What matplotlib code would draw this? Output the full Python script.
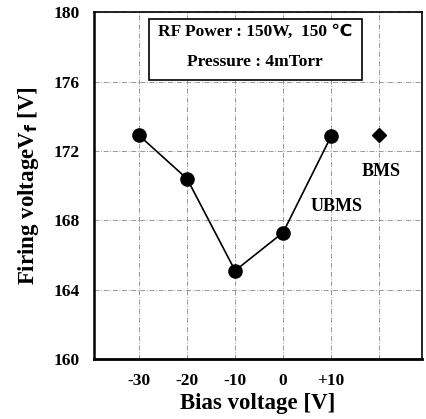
import matplotlib.pyplot as plt

# data
bias_labels = ['-30', '-20', '-10', '0', '+10']
ubms_vf = [172.9, 170.4, 165.1, 167.3, 172.85]
bms_vf = [172.9]

plt.rcParams['font.family'] = ['Liberation Serif', 'DejaVu Serif']
plt.rcParams['font.weight'] = 'bold'

fig = plt.figure(figsize=(4.26, 4.19), dpi=100)
ax = fig.add_axes([0.2207, 0.1432, 0.7693, 0.8270])

xpos = list(range(len(bias_labels)))
ax.plot(xpos, ubms_vf, '-', color='black', linewidth=1.2,
        marker='o', markersize=9.5, zorder=3)
ax.plot([len(bias_labels)], bms_vf, linestyle='none', color='black',
        marker='D', markersize=7.5, zorder=3)

ax.set_xlim(-0.94, 5.89)
ax.set_ylim(160, 180)
ax.set_xticks(range(6))
ax.set_xticklabels(bias_labels + [''])
ax.set_yticks([160, 164, 168, 172, 176, 180])
ax.tick_params(length=0, labelsize=12.5)
ax.tick_params(axis='x', pad=10)
ax.tick_params(axis='y', pad=10)
for lab in ax.get_xticklabels() + ax.get_yticklabels():
    lab.set_fontweight('bold')

ax.grid(True, color='#888888', linestyle=(0, (6, 2, 1, 2)), linewidth=0.6)
ax.set_axisbelow(True)
ax.spines['left'].set_linewidth(1.8)
ax.spines['bottom'].set_linewidth(2.0)
ax.spines['top'].set_linewidth(1.2)
ax.spines['right'].set_linewidth(1.2)

ax.set_xlabel('Bias voltage [V]', fontsize=16.5, fontweight='bold', labelpad=3)
ax.set_ylabel('Firing voltageV$_\\mathbf{f}$ [V]', fontsize=16.5,
              fontweight='bold', labelpad=9)

ax.text(5.04, 170.8, 'BMS', fontsize=13, fontweight='bold',
        ha='center', va='center')
ax.text(4.12, 168.8, 'UBMS', fontsize=13, fontweight='bold',
        ha='center', va='center')

ax.text(2.42, 178.9, 'RF Power : 150W,  150 \u2103', fontsize=12.5,
        fontweight='bold', ha='center', va='center', zorder=4,
        family=['Liberation Serif', 'DejaVu Sans'])
ax.text(2.42, 177.15, 'Pressure : 4mTorr', fontsize=12.5,
        fontweight='bold', ha='center', va='center', zorder=4)
box = plt.Rectangle((0.21, 176.1), 4.44, 3.5, fill=True,
                    facecolor='white', edgecolor='black', linewidth=1.2,
                    zorder=2)
ax.add_patch(box)

fig.savefig('out.png', dpi=100)
